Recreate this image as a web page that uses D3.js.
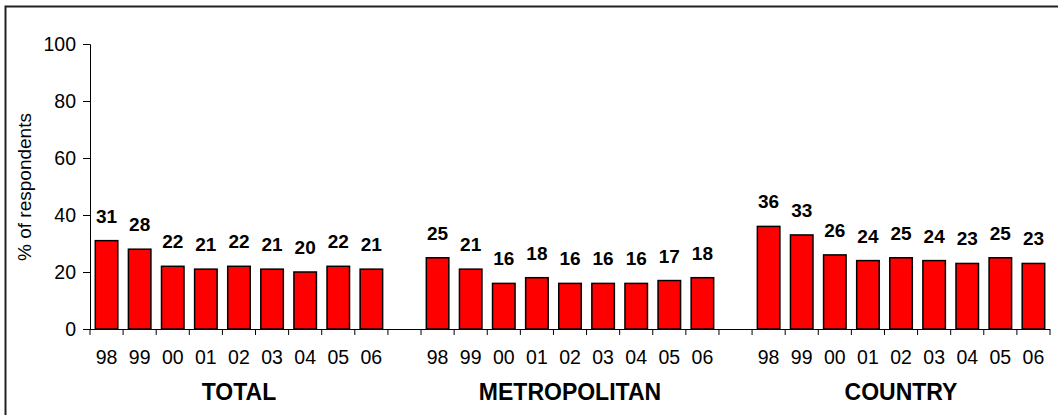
<!DOCTYPE html>
<html>
<head>
<meta charset="utf-8">
<script src="https://cdn.jsdelivr.net/npm/d3@7"></script>
<style>
  body { margin: 0; background: #fff; }
  svg { display: block; font-family: "Liberation Sans", Arial, sans-serif; }
</style>
</head>
<body>
<div id="chart"></div>
<script>
var years = ["98", "99", "00", "01", "02", "03", "04", "05", "06"];
var groups = ["TOTAL", "METROPOLITAN", "COUNTRY"];
var totalValues = [31, 28, 22, 21, 22, 21, 20, 22, 21];
var metroValues = [25, 21, 16, 18, 16, 16, 16, 17, 18];
var countryValues = [36, 33, 26, 24, 25, 24, 23, 25, 23];
var yTicks = [0, 20, 40, 60, 80, 100];

var seriesByGroup = [totalValues, metroValues, countryValues];

var width = 1058, height = 415;
var margin = { top: 44, right: 8, bottom: 86, left: 90 };
var plotW = width - margin.left - margin.right;
var plotH = height - margin.top - margin.bottom;

// flat list of slots: 9 years, an empty slot, 9 years, ...
var slots = [];
groups.forEach(function (g, gi) {
  years.forEach(function (yr, i) {
    slots.push({ key: g + "-" + yr, group: g, year: yr, value: seriesByGroup[gi][i] });
  });
  if (gi < groups.length - 1) slots.push({ key: "gap" + gi, group: null });
});

var svg = d3.select("#chart").append("svg")
  .attr("width", width)
  .attr("height", height);

// outer frame
svg.append("rect")
  .attr("x", 5.5).attr("y", 6.5)
  .attr("width", width).attr("height", height)
  .attr("fill", "none")
  .attr("stroke", "#222")
  .attr("stroke-width", 2);

var g = svg.append("g")
  .attr("transform", "translate(" + margin.left + "," + margin.top + ")");

var x = d3.scaleBand()
  .domain(slots.map(function (d) { return d.key; }))
  .range([0, plotW])
  .paddingInner(0.32)
  .paddingOuter(0.16);

var y = d3.scaleLinear().domain([0, 100]).range([plotH, 0]);

// y axis
var yAxis = d3.axisLeft(y).tickValues(yTicks).tickSize(7).tickPadding(7);
var yg = g.append("g").call(yAxis);
yg.select(".domain").attr("stroke", "#000");
yg.selectAll(".tick line").attr("stroke", "#000");
yg.selectAll(".tick text").attr("font-size", "19.5px").attr("fill", "#000");

// x axis line with ticks at slot boundaries
var boundaries = d3.range(slots.length + 1).map(function (i) { return i * plotW / slots.length; });
g.append("line")
  .attr("x1", 0).attr("x2", plotW)
  .attr("y1", plotH + 0.5).attr("y2", plotH + 0.5)
  .attr("stroke", "#000");
g.selectAll(".xtick")
  .data(boundaries)
  .enter().append("line")
  .attr("class", "xtick")
  .attr("x1", function (d) { return d; })
  .attr("x2", function (d) { return d; })
  .attr("y1", plotH).attr("y2", plotH + 6)
  .attr("stroke", "#000");

var dataSlots = slots.filter(function (d) { return d.group; });

// bars
g.selectAll(".bar")
  .data(dataSlots)
  .enter().append("rect")
  .attr("class", "bar")
  .attr("x", function (d) { return x(d.key); })
  .attr("width", x.bandwidth())
  .attr("y", function (d) { return y(d.value); })
  .attr("height", function (d) { return plotH - y(d.value); })
  .attr("fill", "#ff0000")
  .attr("stroke", "#000")
  .attr("stroke-width", 1.5);

// value labels
g.selectAll(".label")
  .data(dataSlots)
  .enter().append("text")
  .attr("class", "label")
  .attr("x", function (d) { return x(d.key) + x.bandwidth() / 2; })
  .attr("y", function (d) { return y(d.value) - 18; })
  .attr("text-anchor", "middle")
  .attr("font-size", "19px")
  .attr("font-weight", "bold")
  .text(function (d) { return d.value; });

// year labels
g.selectAll(".year")
  .data(dataSlots)
  .enter().append("text")
  .attr("class", "year")
  .attr("x", function (d) { return x(d.key) + x.bandwidth() / 2; })
  .attr("y", plotH + 35)
  .attr("text-anchor", "middle")
  .attr("font-size", "19.5px")
  .text(function (d) { return d.year; });

// group titles
groups.forEach(function (gname) {
  var first = x(gname + "-" + years[0]);
  var last = x(gname + "-" + years[years.length - 1]) + x.bandwidth();
  g.append("text")
    .attr("x", (first + last) / 2)
    .attr("y", plotH + 71)
    .attr("text-anchor", "middle")
    .attr("font-size", "23px")
    .attr("font-weight", "bold")
    .text(gname);
});

// y axis title
svg.append("text")
  .attr("transform", "translate(31," + 187 + ") rotate(-90)")
  .attr("text-anchor", "middle")
  .attr("font-size", "19px")
  .text("% of respondents");
</script>
</body>
</html>
